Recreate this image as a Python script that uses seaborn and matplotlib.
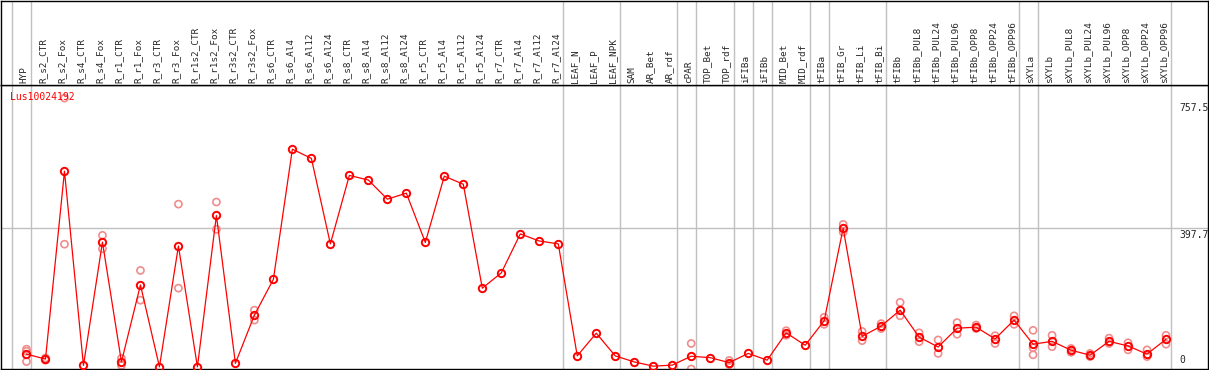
import numpy as np
import pandas as pd
import matplotlib
matplotlib.use("Agg")
import matplotlib.pyplot as plt
import seaborn as sns

sns.set_style("white")
plt.rcParams['font.family'] = ['DejaVu Sans Mono', 'DejaVu Sans']

# gene / sample names (columns of the profile)
gene = "Lus10024192"
samples = [
    "HYP", "R_s2_CTR", "R_s2_Fox", "R_s4_CTR", "R_s4_Fox", "R_r1_CTR", "R_r1_Fox",
    "R_r3_CTR", "R_r3_Fox", "R_r1s2_CTR", "R_r1s2_Fox", "R_r3s2_CTR", "R_r3s2_Fox",
    "R_s6_CTR", "R_s6_Al4", "R_s6_Al12", "R_s6_Al24", "R_s8_CTR", "R_s8_Al4",
    "R_s8_Al12", "R_s8_Al24", "R_r5_CTR", "R_r5_Al4", "R_r5_Al12", "R_r5_Al24",
    "R_r7_CTR", "R_r7_Al4", "R_r7_Al12", "R_r7_Al24", "LEAF_N", "LEAF_P", "LEAF_NPK",
    "SAM", "AR_Bet", "AR_rdf", "cPAR", "TOP_Bet", "TOP_rdf", "iFIBa", "iFIBb",
    "MID_Bet", "MID_rdf", "tFIBa", "tFIB_Gr", "tFIB_Li", "tFIB_Bi", "tFIBb",
    "tFIBb_PUL8", "tFIBb_PUL24", "tFIBb_PUL96", "tFIBb_OPP8", "tFIBb_OPP24",
    "tFIBb_OPP96", "sXYLa", "sXYLb", "sXYLb_PUL8", "sXYLb_PUL24", "sXYLb_PUL96",
    "sXYLb_OPP8", "sXYLb_OPP24", "sXYLb_OPP96",
]

# mean expression
mean_expr = [
    42, 28, 558, 10, 358, 20, 237, 6, 347, 6, 433, 16, 152,
    253, 620, 594, 353, 546, 533, 479, 496, 357, 544, 521, 228,
    271, 381, 361, 353, 37, 101, 37,
    20, 8, 11, 36, 32, 18, 44, 25,
    102, 67, 136, 397, 92, 121, 166,
    90, 62, 115, 118, 85, 138,
    70, 78, 53, 39, 78, 65, 42, 84,
]

nan = np.nan
# individual replicates (nan where not shown)
rep1 = [
    56, 31, 764, nan, 377, 30, 278, nan, 465, nan, 471, nan, 166,
    nan, nan, nan, nan, nan, nan, nan, nan, nan, nan, nan, nan,
    nan, nan, nan, nan, nan, nan, nan,
    nan, nan, nan, 72, nan, 24, nan, nan,
    108, nan, 146, 408, 106, 128, 188,
    102, 82, 131, 124, 94, 150,
    109, 95, 58, 44, 87, 74, 54, 95,
]
rep2 = [
    50, 25, 352, nan, 339, 10, 194, nan, 228, nan, 394, nan, 138,
    nan, nan, nan, nan, nan, nan, nan, nan, nan, nan, nan, nan,
    nan, nan, nan, nan, nan, nan, nan,
    nan, nan, nan, 0, nan, 12, nan, nan,
    95, nan, 126, 386, 80, 114, 150,
    77, 44, 98, 114, 72, 126,
    60, 63, 47, 35, 72, 54, 35, 70,
]
rep3 = [
    21, nan, nan, nan, nan, nan, nan, nan, nan, nan, nan, nan, nan,
    nan, nan, nan, nan, nan, nan, nan, nan, nan, nan, nan, nan,
    nan, nan, nan, nan, nan, nan, nan,
    nan, nan, nan, nan, nan, nan, nan, nan,
    nan, nan, nan, nan, nan, nan, nan,
    nan, nan, nan, nan, nan, nan,
    40, nan, nan, nan, nan, nan, nan, nan,
]

# tissue groups end after these columns
group_ends = ["HYP", "R_r7_Al24", "LEAF_NPK", "AR_rdf", "cPAR", "TOP_rdf", "iFIBa",
              "iFIBb", "MID_rdf", "tFIBa", "tFIB_Bi", "tFIBb_OPP96", "sXYLa",
              "sXYLb_OPP96"]

y_ticks = [757.5, 397.7, 0]

df = pd.DataFrame({"pos": np.arange(len(samples)), "sample": samples, "mean": mean_expr})
reps = pd.concat([
    pd.DataFrame({"pos": np.arange(len(samples)), "value": r}) for r in (rep1, rep2, rep3)
]).dropna()

W, H = 1209, 370
fig = plt.figure(figsize=(W / 100, H / 100), dpi=100)

# pixel layout
plot_top, plot_bot, right = 85, 369, 1208
ax = fig.add_axes([0.5 / W, (H - plot_bot) / H, (right - 0.5) / W, (plot_bot - plot_top) / H])
hdr = fig.add_axes([0.5 / W, (H - plot_top) / H, (right - 0.5) / W, (plot_top - 0.5) / H])

x0, dx = 26, 19.0
xlim = ((0 - x0) / dx, (right - x0) / dx)
px_per_unit = (369 - 228) / 397.7
ymax = (plot_bot - plot_top) / px_per_unit

grey = "#c0c0c0"
for a in (ax, hdr):
    a.set_xlim(*xlim)
    a.set_xticks([])
    a.set_yticks([])
    for s in a.spines.values():
        s.set_color("black")
        s.set_linewidth(1.0)
    a.axvline(-0.75, color=grey, lw=1.0, zorder=0)
    for g in group_ends:
        a.axvline(samples.index(g) + 0.25, color=grey, lw=1.0, zorder=0)

ax.set_ylim(0, ymax)
ax.axhline(397.7, color=grey, lw=1.0, zorder=0)

sns.scatterplot(data=reps, x="pos", y="value", ax=ax, marker="o", s=26,
                facecolors="none", edgecolor="#f08c8c", linewidth=1.2, zorder=2)
sns.lineplot(data=df, x="pos", y="mean", ax=ax, color="red", lw=0.9,
             marker="o", markersize=5.3, markerfacecolor="none",
             markeredgecolor="red", markeredgewidth=1.4, zorder=3)
ax.set_xlabel("")
ax.set_ylabel("")

ax.text(10 / (right), (plot_bot - 97) / (plot_bot - plot_top), gene, transform=ax.transAxes,
        color="red", fontsize=7, va="center", ha="left")

for v in y_ticks:
    if v == 0:
        ax.annotate("0", (1179 / right, v), xycoords=("axes fraction", "data"),
                    xytext=(0, 3), textcoords="offset points", fontsize=7,
                    va="bottom", ha="left")
    else:
        ax.annotate(f"{v}", (1179 / right, v), xycoords=("axes fraction", "data"),
                    xytext=(0, -1.5), textcoords="offset points", fontsize=7,
                    va="top", ha="left")

hdr.set_ylim(0, plot_top)
for i, name in enumerate(samples):
    hdr.text(i - 0.13, 2, name, rotation=90, ha="center", va="bottom", fontsize=6.7)

fig.savefig("out.png", dpi=100)
